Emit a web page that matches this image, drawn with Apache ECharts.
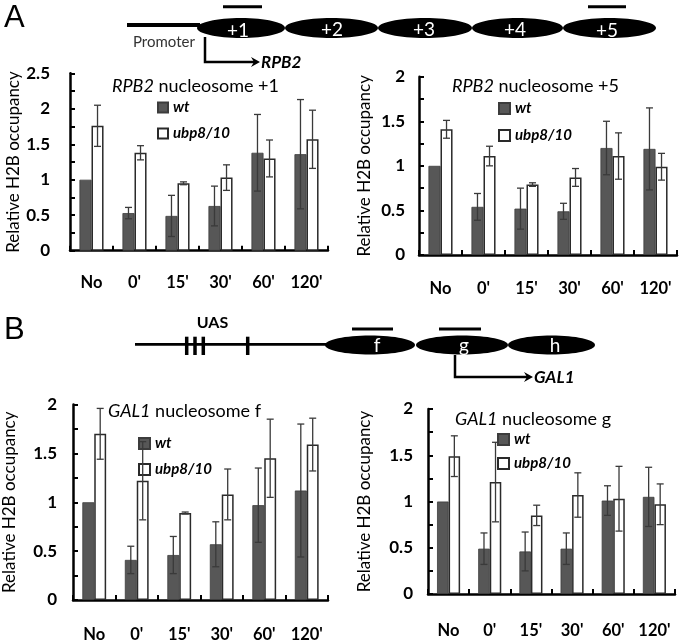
<!DOCTYPE html>
<html>
<head>
<meta charset="utf-8">
<script src="https://cdn.jsdelivr.net/npm/echarts@6/dist/echarts.min.js"></script>
<style>html,body{margin:0;padding:0;background:#fff}#c{width:680px;height:643px}</style>
</head>
<body>
<div id="c"></div>
<script>
const categories = ['No', "0'", "15'", "30'", "60'", "120'"];

// RPB2 nucleosome +1
const rpb2n1Wt = [1.0, 0.53, 0.49, 0.63, 1.38, 1.36];
const rpb2n1WtErr = [0, 0.08, 0.29, 0.28, 0.54, 0.77];
const rpb2n1Ubp = [1.76, 1.38, 0.95, 1.03, 1.30, 1.57];
const rpb2n1UbpErr = [0.29, 0.10, 0.02, 0.18, 0.26, 0.41];

// RPB2 nucleosome +5
const rpb2n5Wt = [1.0, 0.54, 0.52, 0.49, 1.20, 1.19];
const rpb2n5WtErr = [0, 0.15, 0.23, 0.09, 0.30, 0.46];
const rpb2n5Ubp = [1.41, 1.11, 0.79, 0.87, 1.11, 0.99];
const rpb2n5UbpErr = [0.10, 0.11, 0.02, 0.10, 0.26, 0.15];

// GAL1 nucleosome f
const gal1fWt = [1.0, 0.41, 0.46, 0.57, 0.97, 1.12];
const gal1fWtErr = [0, 0.14, 0.19, 0.23, 0.38, 0.68];
const gal1fUbp = [1.70, 1.22, 0.89, 1.08, 1.45, 1.59];
const gal1fUbpErr = [0.26, 0.40, 0.01, 0.26, 0.40, 0.27];

// GAL1 nucleosome g
const gal1gWt = [1.0, 0.49, 0.46, 0.49, 1.01, 1.05];
const gal1gWtErr = [0, 0.17, 0.21, 0.17, 0.16, 0.32];
const gal1gUbp = [1.49, 1.21, 0.85, 1.07, 1.03, 0.97];
const gal1gUbpErr = [0.22, 0.43, 0.11, 0.24, 0.35, 0.22];

const FONT = 'Lato';
const panels = [
  {wt: rpb2n1Wt, wtErr: rpb2n1WtErr, ubp: rpb2n1Ubp, ubpErr: rpb2n1UbpErr, max: 2.5,
   grid: {left: 70, top: 73.3, width: 258, height: 177.4}, labelMargin: 20, nameGap: 45, xMargin: 23,
   title: {gene: 'RPB2', rest: ' nucleosome +1', left: 112, top: 77},
   legend: {left: 157, top: 100, gap: 11, size: 10}},
  {wt: rpb2n5Wt, wtErr: rpb2n5WtErr, ubp: rpb2n5Ubp, ubpErr: rpb2n5UbpErr, max: 2,
   grid: {left: 419, top: 76.7, width: 258, height: 178.3}, labelMargin: 14, nameGap: 46, xMargin: 25,
   title: {gene: 'RPB2', rest: ' nucleosome +5', left: 452, top: 77},
   legend: {left: 498, top: 101, gap: 12, size: 11}},
  {wt: gal1fWt, wtErr: gal1fWtErr, ubp: gal1fUbp, ubpErr: gal1fUbpErr, max: 2,
   grid: {left: 72.7, top: 404.5, width: 255.3, height: 196.2}, labelMargin: 16, nameGap: 55, xMargin: 26,
   title: {gene: 'GAL1', rest: ' nucleosome f', left: 108, top: 402},
   legend: {left: 138, top: 436, gap: 11, size: 11}},
  {wt: gal1gWt, wtErr: gal1gWtErr, ubp: gal1gUbp, ubpErr: gal1gUbpErr, max: 2,
   grid: {left: 428, top: 409, width: 247, height: 185}, labelMargin: 15, nameGap: 55, xMargin: 28,
   title: {gene: 'GAL1', rest: ' nucleosome g', left: 455, top: 410},
   legend: {left: 497, top: 432, gap: 9, size: 11}}
];

function errRender(side) {
  return function (params, api) {
    const cat = api.value(0), v = api.value(1), e = api.value(2);
    if (!e) return null;
    const band = api.size([1, 0])[0];
    const off = side * band * 0.14;
    const t = api.coord([cat, v + e]);
    const b = api.coord([cat, v - e]);
    const x = t[0] + off;
    const cw = 3.5;
    const st = {stroke: '#3a3a3a', lineWidth: 1.3};
    return {type: 'group', children: [
      {type: 'line', shape: {x1: x, y1: t[1], x2: x, y2: b[1]}, style: st},
      {type: 'line', shape: {x1: x - cw, y1: t[1], x2: x + cw, y2: t[1]}, style: st},
      {type: 'line', shape: {x1: x - cw, y1: b[1], x2: x + cw, y2: b[1]}, style: st}
    ]};
  };
}

const option = {
  animation: false,
  backgroundColor: '#fff',
  grid: [], xAxis: [], yAxis: [], series: [], title: [], legend: [],
  graphic: []
};

panels.forEach((p, i) => {
  option.grid.push(Object.assign({containLabel: false}, p.grid));
  option.xAxis.push({
    type: 'category', gridIndex: i, data: categories,
    axisLine: {lineStyle: {color: '#000', width: 2.5}},
    axisTick: {show: true, inside: true, length: 5, lineStyle: {color: '#000', width: 2}},
    axisLabel: {interval: 0, hideOverlap: false, margin: p.xMargin, color: '#000', fontFamily: FONT, fontWeight: 'bold', fontSize: 16.5},
    splitLine: {show: false}
  });
  option.yAxis.push({
    type: 'value', gridIndex: i, min: 0, max: p.max, interval: 0.5,
    name: 'Relative H2B occupancy', nameLocation: 'middle', nameGap: p.nameGap,
    nameTextStyle: {color: '#000', fontFamily: FONT, fontSize: 17},
    axisLine: {show: true, lineStyle: {color: '#000', width: 2.5}},
    axisTick: {show: true, inside: true, length: 5, lineStyle: {color: '#000', width: 2}},
    minorTick: {show: true, splitNumber: 2, length: 5, lineStyle: {color: '#000', width: 2}},
    axisLabel: {margin: p.labelMargin, color: '#000', fontFamily: FONT, fontWeight: 'bold', fontSize: 17},
    splitLine: {show: false}, minorSplitLine: {show: false}
  });
  option.series.push({
    name: 'wt', type: 'bar', xAxisIndex: i, yAxisIndex: i, data: p.wt,
    barWidth: '28%', barGap: '0%',
    itemStyle: {color: '#575757', borderColor: '#3c3c3c', borderWidth: 0.8}
  });
  option.series.push({
    name: 'ubp8/10', type: 'bar', xAxisIndex: i, yAxisIndex: i, data: p.ubp,
    barWidth: '28%', barGap: '0%',
    itemStyle: {color: '#fff', borderColor: '#2a2a2a', borderWidth: 1.5}
  });
  option.series.push({
    name: 'wtErr' + i, type: 'custom', xAxisIndex: i, yAxisIndex: i, z: 5,
    renderItem: errRender(-1), encode: {x: 0, y: 1},
    data: p.wt.map((v, k) => [k, v, p.wtErr[k]])
  });
  option.series.push({
    name: 'ubpErr' + i, type: 'custom', xAxisIndex: i, yAxisIndex: i, z: 5,
    renderItem: errRender(1), encode: {x: 0, y: 1},
    data: p.ubp.map((v, k) => [k, v, p.ubpErr[k]])
  });
  option.title.push({
    text: '{i|' + p.title.gene + '}' + p.title.rest,
    left: p.title.left, top: p.title.top, padding: 0,
    textStyle: {fontFamily: FONT, fontSize: 18, fontWeight: 'normal', color: '#000',
      rich: {i: {fontFamily: FONT, fontSize: 18, fontStyle: 'italic', color: '#000'}}}
  });
  option.legend.push({
    data: ['wt', 'ubp8/10'], orient: 'vertical', left: p.legend.left, top: p.legend.top,
    padding: 0, itemGap: p.legend.gap, itemWidth: p.legend.size, itemHeight: p.legend.size,
    icon: 'rect', selectedMode: false,
    textStyle: {fontFamily: FONT, fontSize: 15, fontWeight: 'bold', fontStyle: 'italic', color: '#000', padding: [0, 0, 0, 0]}
  });
});

// Schematic diagrams
const g = option.graphic;
function ell(cx, cy, rx, ry, label, lx, ly) {
  g.push({type: 'ellipse', shape: {cx: cx, cy: cy, rx: rx, ry: ry}, style: {fill: '#000'}});
  g.push({type: 'text', x: lx, y: ly, style: {text: label, fill: '#fff', font: '19px Lato', align: 'center', verticalAlign: 'middle'}});
}
function arrowTo(x, y) {
  g.push({type: 'polygon', shape: {points: [[x, y], [x - 9, y - 5], [x - 6, y], [x - 9, y + 5]]}, style: {fill: '#000'}});
}
// Panel A
g.push({type: 'text', x: 4, y: 3, style: {text: 'A', fill: '#000', font: '31px "Liberation Sans Narrow", "Liberation Sans"'}});
g.push({type: 'line', shape: {x1: 127, y1: 25, x2: 200, y2: 25}, style: {stroke: '#000', lineWidth: 4}});
ell(241, 28, 44, 10, '+1', 238, 31);
ell(331.5, 28, 46.5, 10, '+2', 332, 30);
ell(425, 28, 47, 10, '+3', 424, 30);
ell(517.5, 28, 45.5, 10, '+4', 515, 30);
ell(609.5, 28, 46.5, 10, '+5', 607, 31);
g.push({type: 'rect', shape: {x: 223, y: 5.2, width: 39, height: 3}, style: {fill: '#000'}});
g.push({type: 'rect', shape: {x: 588, y: 5.2, width: 38, height: 3}, style: {fill: '#000'}});
g.push({type: 'text', x: 133, y: 42, style: {text: 'Promoter', fill: '#333', font: '15px Lato', verticalAlign: 'middle'}});
g.push({type: 'polyline', shape: {points: [[205, 37], [205, 62], [254, 62]]}, style: {stroke: '#000', lineWidth: 2.5, fill: null}});
arrowTo(260, 62);
g.push({type: 'text', x: 261, y: 63, style: {text: 'RPB2', fill: '#000', font: 'italic bold 17px Lato', verticalAlign: 'middle'}});
// Panel B
g.push({type: 'text', x: 4, y: 315, style: {text: 'B', fill: '#000', font: '31px "Liberation Sans Narrow", "Liberation Sans"'}});
g.push({type: 'text', x: 212.5, y: 323, style: {text: 'UAS', fill: '#000', font: 'bold 16px Lato', align: 'center', verticalAlign: 'middle'}});
g.push({type: 'line', shape: {x1: 135, y1: 344.3, x2: 330, y2: 344.3}, style: {stroke: '#000', lineWidth: 2.7}});
[186.7, 195, 203.3, 247.7].forEach(x => g.push({type: 'line', shape: {x1: x, y1: 336.7, x2: x, y2: 355}, style: {stroke: '#000', lineWidth: 3.5}}));
ell(370, 345, 45, 9.5, 'f', 377, 346);
ell(462, 345, 46, 9.5, 'g', 464, 346);
ell(551.5, 345, 43.5, 9.5, 'h', 555, 346);
g.push({type: 'rect', shape: {x: 352, y: 327.5, width: 41, height: 3}, style: {fill: '#000'}});
g.push({type: 'rect', shape: {x: 439, y: 327.5, width: 42, height: 3}, style: {fill: '#000'}});
g.push({type: 'polyline', shape: {points: [[455, 355], [455, 377], [527, 377]]}, style: {stroke: '#000', lineWidth: 2.5, fill: null}});
arrowTo(533, 377);
g.push({type: 'text', x: 534, y: 378, style: {text: 'GAL1', fill: '#000', font: 'italic bold 17px Lato', verticalAlign: 'middle'}});

const chart = echarts.init(document.getElementById('c'), null, {renderer: 'canvas'});
chart.setOption(option);
</script>
</body>
</html>
